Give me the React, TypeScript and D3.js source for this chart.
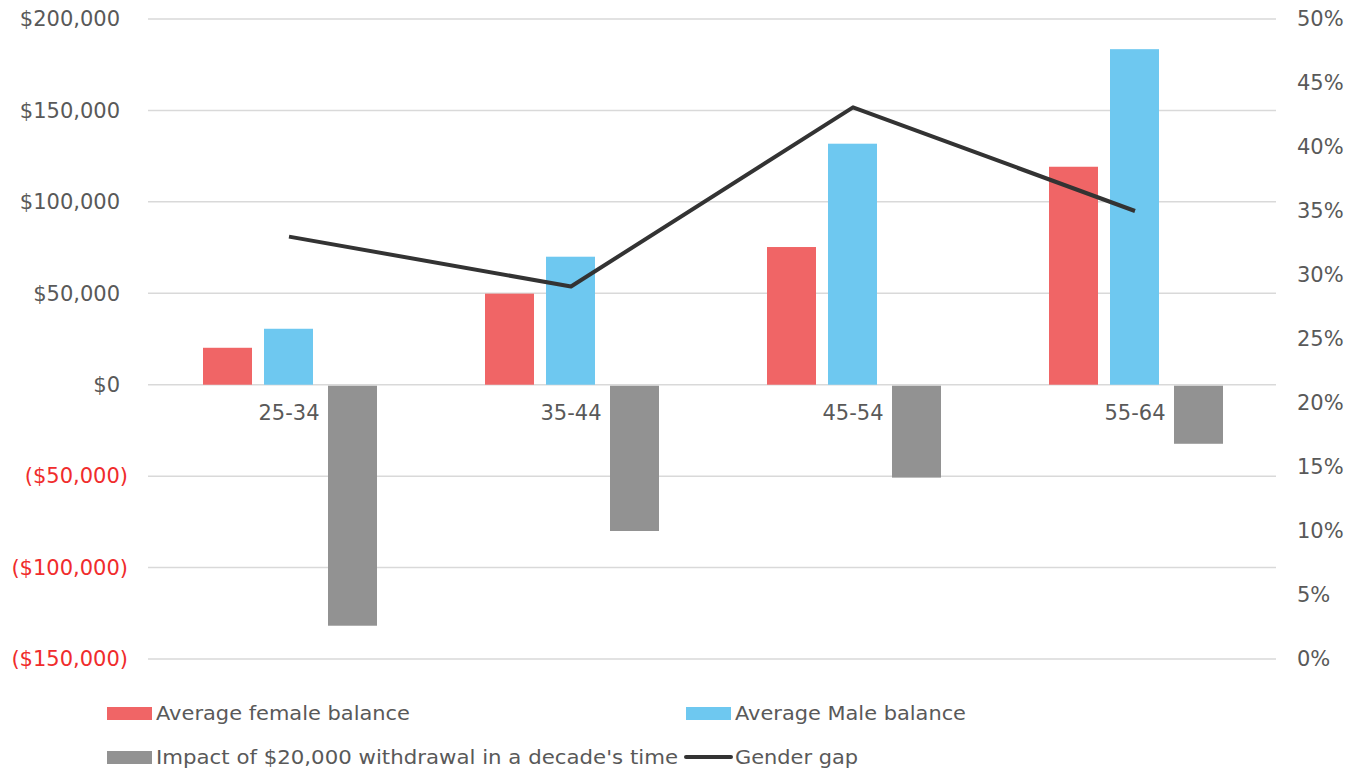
import React from "react";
import * as d3 from "d3";

const categories = ["25-34", "35-44", "45-54", "55-64"];
const femaleBalance = [20200, 49800, 75300, 119200];
const maleBalance = [30600, 70000, 131800, 183500];
const withdrawalImpact = [-131800, -80000, -50800, -32300];
const genderGap = [0.33, 0.291, 0.431, 0.35];
const leftTicks = [-150000, -100000, -50000, 0, 50000, 100000, 150000, 200000];
const rightTicks = [0, 0.05, 0.1, 0.15, 0.2, 0.25, 0.3, 0.35, 0.4, 0.45, 0.5];

const W = 1359;
const H = 771;
const FONT = "'DejaVu Sans', Verdana, sans-serif";
const TEXT = "#595959";
const GRID = "#d9d9d9";
const RED = "#f06566";
const BLUE = "#6ec8f0";
const GREY = "#929292";
const LINE = "#333333";

export default function App() {
  const left = 148;
  const right = 1276;
  const top = 19;
  const bottom = 659;

  const x = d3.scaleBand<string>().domain(categories).range([left, right]).padding(0);
  const y = d3.scaleLinear().domain([-150000, 200000]).range([bottom, top]);
  const y2 = d3.scaleLinear().domain([0, 0.5]).range([bottom, top]);

  const barW = 49;
  const offsets = [0, 61, 125];
  const groupW = 172;
  const cx = (c: string) => (x(c) as number) + x.bandwidth() / 2;
  const barX = (c: string, i: number) => cx(c) - groupW / 2 + offsets[i];

  const money = (v: number) => {
    const s = "$" + d3.format(",")(Math.abs(v));
    return v < 0 ? `(${s})` : s;
  };

  const line = d3
    .line<number>()
    .x((_, i) => cx(categories[i]))
    .y((d) => y2(d));

  const series = [femaleBalance, maleBalance, withdrawalImpact];
  const colors = [RED, BLUE, GREY];

  return (
    <svg width={W} height={H} style={{ position: "absolute", left: 0, top: 0, background: "#fff" }} fontFamily={FONT}>
      {leftTicks.map((t) => (
        <line key={"g" + t} x1={left} x2={right} y1={y(t)} y2={y(t)} stroke={GRID} strokeWidth={1.5} />
      ))}
      {leftTicks.map((t) => (
        <text key={"l" + t} x={t < 0 ? 128 : 120} y={y(t)} dy="0.35em" textAnchor="end" fontSize={21} fill={t < 0 ? "#f02c2c" : TEXT}>
          {money(t)}
        </text>
      ))}
      {rightTicks.map((t) => (
        <text key={"r" + t} x={1297} y={y2(t)} dy="0.35em" textAnchor="start" fontSize={21} fill={TEXT}>
          {d3.format(".0%")(t)}
        </text>
      ))}
      {series.map((vals, si) =>
        vals.map((v, i) => {
          const c = categories[i];
          const y0 = y(0);
          const yv = y(v);
          return (
            <rect
              key={`b${si}-${i}`}
              x={barX(c, si)}
              y={Math.min(y0, yv) + (v < 0 ? 1 : 0)}
              width={barW}
              height={Math.abs(yv - y0) - (v < 0 ? 1 : 0)}
              fill={colors[si]}
            />
          );
        })
      )}
      {categories.map((c) => (
        <text key={"c" + c} x={cx(c)} y={413} dy="0.35em" textAnchor="middle" fontSize={21} fill={TEXT}>
          {c}
        </text>
      ))}
      <path d={line(genderGap) || ""} fill="none" stroke={LINE} strokeWidth={4} strokeLinejoin="round" />

      {/* legend */}
      <g fontSize={20} fill={TEXT}>
        <rect x={107} y={707} width={45} height={13} fill={RED} />
        <text x={156} y={713} dy="0.35em" textLength={254} lengthAdjust="spacingAndGlyphs">Average female balance</text>
        <rect x={686} y={707} width={45} height={13} fill={BLUE} />
        <text x={735} y={713} dy="0.35em" textLength={231} lengthAdjust="spacingAndGlyphs">Average Male balance</text>
        <rect x={107} y={751} width={45} height={13} fill={GREY} />
        <text x={156} y={757} dy="0.35em" textLength={522} lengthAdjust="spacingAndGlyphs">Impact of $20,000 withdrawal in a decade's time</text>
        <line x1={686} x2={731} y1={757} y2={757} stroke={LINE} strokeWidth={4} strokeLinecap="round" />
        <text x={735} y={757} dy="0.35em" textLength={123} lengthAdjust="spacingAndGlyphs">Gender gap</text>
      </g>
    </svg>
  );
}
